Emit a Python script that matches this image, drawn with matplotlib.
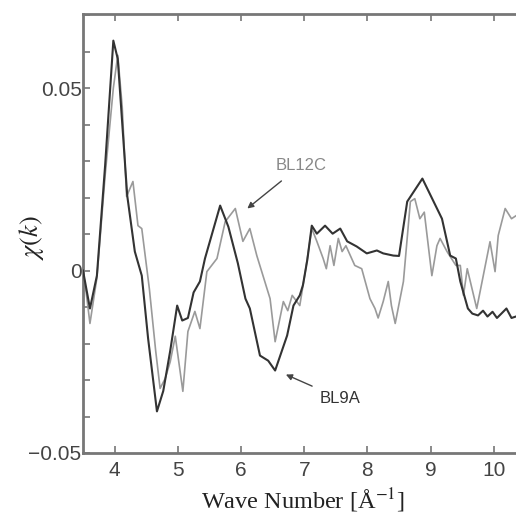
import matplotlib
matplotlib.use("Agg")
import matplotlib.pyplot as plt
from matplotlib.ticker import MultipleLocator, FixedLocator

plt.rcParams["mathtext.fontset"] = "stix"

# ---- data ----
k_bl9a = [3.50, 3.61, 3.72, 3.85, 3.98, 4.05, 4.20, 4.32, 4.43, 4.53, 4.67, 4.77,
          4.88, 4.99, 5.07, 5.16, 5.25, 5.35, 5.43, 5.67, 5.80, 5.95, 6.07, 6.14,
          6.30, 6.43, 6.54, 6.73, 6.83, 6.93, 6.98, 7.05, 7.12, 7.20, 7.33, 7.45,
          7.57, 7.68, 7.83, 7.99, 8.15, 8.25, 8.41, 8.50, 8.63, 8.87, 9.18, 9.31,
          9.40, 9.47, 9.59, 9.66, 9.75, 9.83, 9.90, 9.98, 10.05, 10.12, 10.20, 10.28,
          10.35]
chi_bl9a = [0.0, -0.0104, -0.0014, 0.0288, 0.063, 0.058, 0.0205, 0.0052, -0.0014,
            -0.0186, -0.0386, -0.033, -0.022, -0.0096, -0.0137, -0.013, -0.006,
            -0.003, 0.0033, 0.0178, 0.012, 0.002, -0.0077, -0.0104, -0.0233, -0.0247,
            -0.0274, -0.0178, -0.0096, -0.0068, -0.004, 0.003, 0.0123, 0.0101,
            0.0123, 0.0101, 0.0115, 0.008, 0.0066, 0.0047, 0.0055, 0.0047, 0.0041,
            0.004, 0.0189, 0.0252, 0.0142, 0.0041, 0.0033, -0.003, -0.0104, -0.0118,
            -0.0123, -0.011, -0.0126, -0.0113, -0.013, -0.0118, -0.0104, -0.013, -0.0126]

k_bl12c = [3.50, 3.55, 3.61, 3.72, 3.85, 3.98, 4.05, 4.12, 4.19, 4.29, 4.37, 4.43,
           4.55, 4.65, 4.72, 4.80, 4.88, 4.96, 5.08, 5.16, 5.27, 5.35, 5.46, 5.62,
           5.75, 5.91, 6.03, 6.14, 6.25, 6.46, 6.54, 6.67, 6.74, 6.81, 6.93, 7.02,
           7.12, 7.20, 7.30, 7.35, 7.41, 7.47, 7.54, 7.60, 7.66, 7.80, 7.91, 8.04,
           8.12, 8.17, 8.25, 8.33, 8.38, 8.44, 8.57, 8.68, 8.75, 8.83, 8.90, 9.02,
           9.10, 9.15, 9.26, 9.40, 9.47, 9.52, 9.58, 9.73, 9.94, 10.02, 10.07, 10.18,
           10.28, 10.35]
chi_bl12c = [0.0, -0.006, -0.0145, -0.002, 0.026, 0.05, 0.059, 0.045, 0.0203, 0.0244,
             0.0123, 0.0115, -0.005, -0.022, -0.0323, -0.0296, -0.025, -0.018, -0.0331,
             -0.0167, -0.0112, -0.0159, -0.0003, 0.0033, 0.0134, 0.017, 0.008, 0.0115,
             0.0041, -0.0077, -0.0195, -0.0085, -0.011, -0.0068, -0.0096, 0.0, 0.0115,
             0.008, 0.0033, 0.0005, 0.0068, 0.0014, 0.0088, 0.0052, 0.0068, 0.0014,
             0.0005, -0.0077, -0.0104, -0.013, -0.0085, -0.003, -0.0096, -0.0145,
             -0.003, 0.0189, 0.0197, 0.0142, 0.016, -0.0014, 0.0068, 0.0088, 0.0052,
             0.0014, 0.0014, -0.0068, 0.0005, -0.0104, 0.0079, -0.0003, 0.0096, 0.017,
             0.0142, 0.015]

x_ticks = [4, 5, 6, 7, 8, 9, 10]
y_ticks = [-0.05, 0, 0.05]
y_ticklabels = ["\u22120.05", "0", "0.05"]

# ---- figure ----
fig = plt.figure(figsize=(5.16, 5.16), dpi=100)
W = H = 516.0
left, right, bottom, top = 83, 557, 453, 14
ax = fig.add_axes([left / W, (H - bottom) / H, (right - left) / W, (bottom - top) / H])

ax.plot(k_bl12c, chi_bl12c, color="#9a9a9a", lw=1.2, zorder=2)
ax.plot(k_bl9a, chi_bl9a, color="#333333", lw=1.5, zorder=3)

ax.set_xlim(3.5, 11.0)
ax.set_ylim(-0.05, 0.0703)

ax.xaxis.set_major_locator(FixedLocator(x_ticks))
ax.yaxis.set_major_locator(FixedLocator(y_ticks))
ax.set_yticklabels(y_ticklabels)
ax.yaxis.set_minor_locator(MultipleLocator(0.01))

for lab in ax.get_xticklabels() + ax.get_yticklabels():
    lab.set_fontfamily("Liberation Sans")
    lab.set_fontsize(15)
    lab.set_color("#444444")

ax.tick_params(axis="both", which="both", direction="in", top=True, right=True,
               color="#777777", width=1.2)
ax.tick_params(axis="both", which="major", length=5)
ax.tick_params(axis="y", which="minor", length=5)
ax.tick_params(axis="x", which="major", pad=6)
ax.tick_params(axis="y", which="major", pad=1)

for sp in ax.spines.values():
    sp.set_color("#777777")
    sp.set_linewidth(2.0)

ax.set_xlabel("Wave Number [\u00c5$^{-1}$]", family="Liberation Serif", size=17.5,
              color="#222222")
ax.xaxis.set_label_coords((303 - left) / (right - left), -(501 - bottom) / (bottom - top),
                          transform=ax.transAxes)
ax.xaxis.label.set_va("center")
ax.set_ylabel("$\\chi(k)$", size=19, color="#222222")
ax.yaxis.set_label_coords(-(left - 32) / (right - left), (bottom - 238) / (bottom - top),
                          transform=ax.transAxes)
ax.yaxis.label.set_va("center")

ax.annotate("BL12C", xy=(6.10, 0.017), xytext=(6.54, 0.0288),
            textcoords="data", fontsize=12, family="Liberation Sans", color="#888888",
            va="center", ha="left",
            arrowprops=dict(arrowstyle="-|>", color="#444444", lw=1.0,
                            shrinkA=6, shrinkB=0, mutation_scale=9))
ax.annotate("BL9A", xy=(6.71, -0.0285), xytext=(7.25, -0.0351),
            textcoords="data", fontsize=12, family="Liberation Sans", color="#333333",
            va="center", ha="left",
            arrowprops=dict(arrowstyle="-|>", color="#444444", lw=1.0,
                            shrinkA=4, shrinkB=0, mutation_scale=9))

fig.savefig("out.png", dpi=100)
